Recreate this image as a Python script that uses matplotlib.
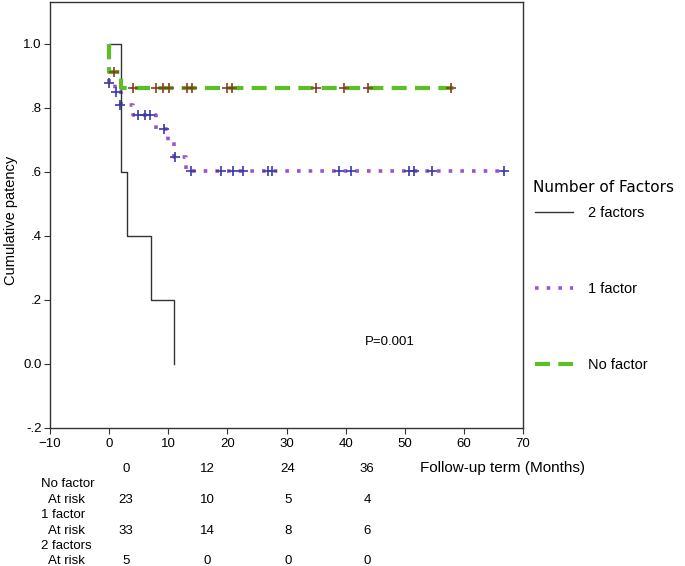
import numpy as np
import matplotlib
matplotlib.use("Agg")
import matplotlib.pyplot as plt

plt.rcParams['font.family'] = ['Liberation Sans', 'DejaVu Sans']
plt.rcParams['lines.scale_dashes'] = False

# Kaplan-Meier step data (time in months, cumulative patency)
t_two = [0, 2, 3, 7, 11]
s_two = [1.0, 0.6, 0.4, 0.2, 0.0]

t_one = [0, 0, 1, 2, 4, 8, 10, 11, 13, 67.3]
s_one = [1.0, 0.879, 0.848, 0.81, 0.776, 0.735, 0.693, 0.645, 0.603, 0.603]

t_none = [0, 0, 0, 2, 58.3]
s_none = [1.0, 0.957, 0.913, 0.862, 0.862]

# censored observations
c_one_t = [0.0, 1.1, 1.9, 4.9, 6.1, 6.9, 9.2, 11.1,
           13.9, 19.0, 21.0, 22.6, 26.9, 27.6, 38.8, 40.9, 50.8, 51.6, 54.6, 66.8]
c_one_s = [0.879, 0.848, 0.81, 0.776, 0.776, 0.776, 0.735, 0.645,
           0.603, 0.603, 0.603, 0.603, 0.603, 0.603, 0.603, 0.603, 0.603, 0.603, 0.603, 0.603]
c_none_t = [0.8, 4.1, 8.0, 9.1, 10.1, 13.1, 14.0, 19.9, 20.8, 35.0, 39.8, 43.7, 57.8]
c_none_s = [0.913] + [0.862] * 12

# number at risk table
risk_times = ['0', '12', '24', '36']
risk_groups = ['No factor', '1 factor', '2 factors']
risk_counts = [[23, 10, 5, 4],
               [33, 14, 8, 6],
               [5, 0, 0, 0]]

green = '#5cbf24'
purple = '#9b52d2'

fig = plt.figure(figsize=(6.85, 5.66), dpi=100)
ax = fig.add_axes([50/685, 1-427.5/566, 473/685, 425.5/566])

l_one, = ax.step(t_one, s_one, where='post', color=purple, lw=2.6,
                 linestyle=(0, (2.6, 5.8)), dash_capstyle='butt', label='1 factor')
l_two, = ax.step(t_two, s_two, where='post', color='#333333', lw=1.0, label='2 factors')
l_none, = ax.step(t_none, s_none, where='post', color=green, lw=3.0,
                  linestyle=(0, (10.8, 6.0)), dash_capstyle='butt', label='No factor')

ax.plot(c_one_t, c_one_s, ls='none', marker='+', ms=7, mew=1.2, color='#3a3aa8')
ax.plot(c_none_t, c_none_s, ls='none', marker='+', ms=7, mew=1.2, color='#8b3a26')

ax.set_xlim(-10, 70)
ax.set_ylim(-0.2, 1.131)
ax.set_xticks(range(-10, 71, 10))
ax.set_xticklabels(['\u221210', '0', '10', '20', '30', '40', '50', '60', '70'])
ax.set_yticks([-0.2, 0.0, 0.2, 0.4, 0.6, 0.8, 1.0])
ax.set_yticklabels(['-.2', '0.0', '.2', '.4', '.6', '.8', '1.0'])
ax.tick_params(labelsize=9.5, length=4, width=0.8, color='#333333')
ax.tick_params(axis='y', pad=2)
for sp in ax.spines.values():
    sp.set_color('#333333')
    sp.set_linewidth(1.0)

# y label placed by hand so it stays inside the figure
fig.text(11/685, 1-220/566, 'Cumulative patency', fontsize=10.5, rotation=90,
         ha='center', va='center')

ax.text(43.3, 0.066, 'P=0.001', fontsize=9.5, va='center')

# legend
fig.text(533/685, 1-187/566, 'Number of Factors', fontsize=11, va='center',
         family='DejaVu Sans')
fig.legend(handles=[l_two, l_one, l_none], loc='upper left',
           bbox_to_anchor=(535/685, 1-206/566), frameon=False, fontsize=10.5,
           borderpad=0, borderaxespad=0, handlelength=2.6, handletextpad=1.0,
           labelspacing=4.25)

# x label and number at risk table
fig.text(420/685, 1-468/566, 'Follow-up term (Months)', fontsize=11, va='center')
col_x = [126, 207, 288, 367]
row_h = 15.4
y0 = 469
for j, lab in enumerate(risk_times):
    fig.text(col_x[j]/685, 1-y0/566, lab, fontsize=9.5, ha='center', va='center')
for i, grp in enumerate(risk_groups):
    yg = y0 + row_h * (1 + 2*i)
    yr = yg + row_h
    fig.text(41/685, 1-yg/566, grp, fontsize=9.5, va='center')
    fig.text(48/685, 1-yr/566, 'At risk', fontsize=9.5, va='center')
    for j, n in enumerate(risk_counts[i]):
        fig.text(col_x[j]/685, 1-yr/566, str(n), fontsize=9.5, ha='center', va='center')

fig.savefig('out.png', dpi=100)
